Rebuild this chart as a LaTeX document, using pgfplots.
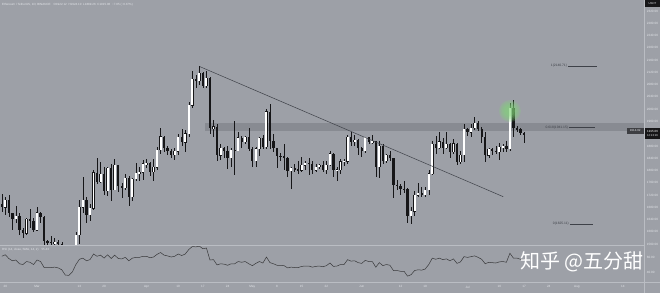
\documentclass[border=0pt]{standalone}
\usepackage{pgfplots}
\pgfplotsset{compat=1.18}
\usepackage{pgfplotstable}
\usepackage{fontspec}
\setmainfont{Liberation Sans}
\newfontfamily\cjk{Noto Sans CJK SC}
\definecolor{bg}{RGB}{157,160,167}
\definecolor{band}{RGB}{136,139,146}
\definecolor{sep}{RGB}{186,189,195}
\definecolor{lbl}{RGB}{228,230,234}
\definecolor{dk}{RGB}{22,22,24}
\definecolor{fib}{RGB}{62,65,72}
\definecolor{glow}{RGB}{130,215,120}

% white (rising) candles
\pgfplotstableread{
d O H L C
-9 1680 1715 1655 1703
-6 1643 1685 1628 1651
-3 1595 1645 1589 1641
0 1605 1680 1602 1663
5 1564 1581 1554 1566
10 1429 1490 1368 1473
11 1473 1600 1465 1590
12 1590 1705 1560 1680
13 1680 1780 1660 1703
15 1655 1690 1636 1677
16 1677 1803 1671 1793
18 1762 1828 1760 1788
20 1734 1812 1716 1808
22 1738 1838 1736 1817
25 1744 1788 1735 1776
27 1713 1775 1700 1772
28 1772 1825 1765 1792
29 1792 1810 1765 1794
30 1794 1833 1768 1822
31 1822 1838 1808 1823
33 1796 1838 1765 1810
34 1810 1875 1800 1867
35 1867 1938 1855 1910
39 1850 1874 1834 1862
40 1862 1918 1852 1909
42 1892 1932 1860 1920
43 1920 2022 1909 2012
44 2012 2126 2003 2098
46 2093 2141 2080 2118
48 2077 2125 2070 2102
50 1937 1965 1908 1943
52 1849 1885 1835 1873
55 1842 1872 1810 1866
57 1865 1925 1862 1907
59 1893 1914 1888 1908
62 1832 1875 1810 1871
63 1871 1910 1848 1905
65 1877 2000 1870 1992
72 1798 1810 1740 1807
75 1800 1845 1795 1817
76 1817 1830 1800 1824
79 1800 1822 1796 1811
80 1811 1822 1805 1818
82 1802 1830 1790 1818
83 1818 1862 1815 1855
85 1801 1810 1766 1803
86 1803 1836 1790 1829
87 1829 1836 1815 1830
88 1830 1915 1822 1909
90 1893 1915 1880 1899
93 1863 1910 1856 1908
95 1893 1915 1885 1895
97 1811 1895 1777 1880
99 1832 1855 1825 1849
106 1651 1680 1626 1667
107 1667 1733 1650 1719
108 1719 1760 1712 1727
110 1721 1745 1712 1737
111 1737 1800 1720 1790
112 1790 1896 1785 1887
114 1874 1925 1870 1894
116 1873 1927 1870 1886
118 1861 1902 1855 1888
120 1829 1865 1822 1851
121 1851 1950 1827 1934
123 1924 1952 1908 1938
124 1938 1975 1932 1954
128 1849 1872 1840 1869
131 1861 1891 1835 1877
132 1877 1885 1860 1879
134 1871 2021 1865 2004
}\wc

% black (falling) candles
\pgfplotstableread{
d O H L C
-10 1691 1722 1665 1680
-8 1703 1719 1648 1660
-7 1660 1662 1605 1643
-5 1651 1660 1591 1607
-4 1607 1611 1580 1595
-2 1641 1675 1613 1634
-1 1634 1646 1600 1605
1 1663 1665 1630 1647
2 1647 1650 1545 1569
3 1569 1572 1550 1567
4 1567 1585 1553 1564
6 1566 1572 1542 1561
7 1561 1567 1530 1534
8 1534 1546 1422 1439
9 1439 1445 1368 1429
14 1703 1715 1630 1655
17 1793 1842 1755 1762
19 1788 1812 1720 1734
21 1808 1822 1700 1738
23 1817 1819 1730 1750
24 1750 1760 1710 1744
26 1776 1782 1683 1713
32 1823 1829 1781 1796
36 1910 1913 1860 1873
37 1873 1880 1852 1864
38 1864 1870 1842 1850
41 1909 1935 1880 1892
45 2098 2110 2070 2093
47 2118 2120 2070 2077
49 2102 2105 1920 1937
51 1943 1950 1830 1849
53 1873 1877 1840 1862
54 1862 1880 1805 1842
56 1866 1962 1785 1865
58 1907 1913 1872 1893
60 1908 1940 1865 1869
61 1869 1875 1810 1832
64 1905 1915 1870 1877
66 1992 2016 1870 1897
67 1897 1920 1860 1872
68 1872 1874 1808 1848
69 1848 1857 1830 1846
70 1846 1885 1800 1842
71 1842 1845 1780 1798
73 1807 1820 1795 1804
74 1804 1830 1790 1800
77 1824 1840 1785 1822
78 1822 1830 1790 1800
81 1818 1830 1795 1802
84 1855 1858 1780 1801
89 1909 1926 1880 1893
91 1899 1904 1850 1874
92 1874 1875 1845 1863
94 1908 1910 1885 1893
96 1895 1897 1780 1811
98 1880 1885 1820 1832
100 1849 1865 1830 1840
101 1840 1842 1710 1752
102 1752 1770 1738 1751
103 1751 1755 1720 1741
104 1741 1765 1725 1739
105 1739 1742 1630 1651
109 1727 1747 1715 1721
113 1887 1914 1855 1874
115 1894 1905 1855 1873
117 1886 1890 1840 1861
119 1888 1889 1818 1829
122 1934 1940 1912 1924
125 1954 1963 1930 1936
126 1936 1943 1890 1910
127 1910 1925 1828 1849
129 1869 1872 1850 1864
130 1864 1880 1855 1861
133 1879 1895 1860 1871
135 2004 2029 1910 1937
136 1937 1945 1925 1934
137 1934 1940 1915 1922
138 1922.12 1924.10 1889.26 1915.06
}\bc

% RSI(14)
\pgfplotstableread{
d r
-10 61
-9 63
-8 58
-7 55
-6 56
-5 51
-4 50
-3 54
-2 53
-1 50
0 56
1 54
2 46
3 46
4 46
5 46.5
6 45.5
7 43
8 36
9 35.5
10 40
11 50
12 57
13 58.5
14 55
15 56.5
16 64
17 61
18 62.5
19 58.5
20 63
21 58
22 62.5
23 58
24 57.5
25 59.5
26 55
27 58.5
28 59.5
29 59.5
30 61
31 61
32 59
33 60
34 63.5
35 66
36 62.5
37 61.5
38 60
39 61
40 64
41 62
42 64
43 70
44 74
45 73.5
46 74.5
47 71
48 72
49 56
50 56.5
51 49.5
52 51
53 50.5
54 49
55 51
56 51
57 54
58 53
59 54
60 51
61 48.5
62 51.5
63 54
64 52
65 60
66 52.5
67 51
68 49
69 49
70 48.5
71 45.5
72 46.5
73 46
74 46
75 47.5
76 48
77 48
78 46.5
79 47.5
80 48
81 47
82 48.5
83 52
84 47.5
85 48
86 50
87 50
88 56.5
89 54.5
90 55
91 52.5
92 51.5
93 55.5
94 54
95 54
96 46.5
97 52.5
98 48.5
99 50
100 49
101 42
102 42
103 41
104 41
105 34.5
106 36.5
107 42
108 43
109 42.5
110 44
111 50
112 58.5
113 57
114 58.5
115 56.5
116 57.5
117 55
118 57.5
119 51.5
120 53.5
121 60.5
122 59.5
123 60.5
124 61.5
125 59.5
126 57
127 51
128 53
129 52.5
130 52
131 53.5
132 54
133 53
134 65
135 58.5
136 58.5
137 57
138 56.5
}\rsi

\pgfplotsset{
  tvaxis/.style={
    scale only axis, width=644pt, xmin=-10.5, xmax=172,
    axis line style={draw=none}, major tick length=0pt, tick style={draw=none},
    yticklabel pos=right,
    yticklabel style={font=\fontsize{3.1}{3.5}\selectfont, text=lbl, anchor=west, inner sep=0pt, xshift=2.6pt,
      /pgf/number format/.cd, fixed, fixed zerofill, precision=2, 1000 sep={}, assume math mode=true},
  },
  ebar/.style n args={2}{forget plot, draw=none, mark=none, error bars/.cd, y dir=both, y explicit, error mark=none,
    error bar style={line width=#1, draw=#2, solid}},
  glowdot/.style={forget plot, only marks, mark=*, mark size=#1,
    mark options={line width=0pt, draw=glow, draw opacity=0, fill=glow, fill opacity=0.2}},
}

\begin{document}
\begin{tikzpicture}[x=1pt,y=1pt]
\fill[bg] (0pt,0pt) rectangle (660pt,293pt);

\begin{axis}[tvaxis, at={(0pt,48pt)}, anchor=south west, height=245pt,
  ymin=1557, ymax=2356, xtick=\empty,
  ytick={1560,1600,1640,1680,1720,1760,1800,1840,1880,1960,2000,2040,2080,2120,2160,2200,2240,2280,2320}]
% resistance band
\addplot[fill=band, draw=none, forget plot] coordinates {(47.5,1928.8) (172,1928.8) (172,1954.9) (47.5,1954.9)} -- cycle;
% soft glow around the high (stacked translucent discs)
\addplot[glowdot=11pt] coordinates {(134,1994)};
\addplot[glowdot=9.5pt] coordinates {(134,1994)};
\addplot[glowdot=8pt] coordinates {(134,1994)};
\addplot[glowdot=6.5pt] coordinates {(134,1994)};
\addplot[glowdot=5pt] coordinates {(134,1994)};
% wicks
\addplot[ebar={0.45pt}{dk}] table[x=d, y expr={(\thisrow{H}+\thisrow{L})/2}, y error expr={(\thisrow{H}-\thisrow{L})/2}] {\wc};
\addplot[ebar={0.45pt}{dk}] table[x=d, y expr={(\thisrow{H}+\thisrow{L})/2}, y error expr={(\thisrow{H}-\thisrow{L})/2}] {\bc};
% black bodies
\addplot[ebar={2.3pt}{dk}]
  table[x=d, y expr={(\thisrow{O}+\thisrow{C})/2}, y error expr={max(abs(\thisrow{C}-\thisrow{O})/2,1)}] {\bc};
% white bodies: outline then fill
\addplot[ebar={2.5pt}{dk}]
  table[x=d, y expr={(\thisrow{O}+\thisrow{C})/2}, y error expr={max(abs(\thisrow{C}-\thisrow{O})/2,0.8)+1}] {\wc};
\addplot[ebar={1.9pt}{white}]
  table[x=d, y expr={(\thisrow{O}+\thisrow{C})/2}, y error expr={max(abs(\thisrow{C}-\thisrow{O})/2,0.8)}] {\wc};
% trend line
\addplot[fib, line width=0.5pt, forget plot] coordinates {(46.2,2138.4) (132.1,1714.6)};
% fibonacci levels
\addplot[fib, line width=0.4pt, forget plot] coordinates {(150.4,2140.71) (158.6,2140.71)};
\addplot[fib, line width=0.4pt, forget plot] coordinates {(150.7,1941.15) (158.1,1941.15)};
\addplot[fib, line width=0.4pt, forget plot] coordinates {(151,1625.11) (157.5,1625.11)};
\node[anchor=east, inner sep=0.3pt, text=fib, font=\fontsize{3.3}{3.6}\selectfont] at (axis cs:150.3,2140.71) {1(2140.71)};
\node[anchor=east, inner sep=0.3pt, text=fib, font=\fontsize{3.3}{3.6}\selectfont] at (axis cs:150.6,1941.15) {0.618(1941.15)};
\node[anchor=east, inner sep=0.3pt, text=fib, font=\fontsize{3.3}{3.6}\selectfont] at (axis cs:150.8,1625.11) {0(1625.11)};
\end{axis}

\begin{axis}[tvaxis, at={(0pt,11pt)}, anchor=south west, height=37pt,
  ymin=26.7, ymax=76, ytick={40,60},
  xtick={-9,0,12,19,31,40,47,54,61,68,75,82,92,103,110,122,131,138,145,153,166},
  xticklabels={20,Mar,13,20,Apr,10,17,24,May,8,15,22,Jun,12,19,Jul,10,17,24,Aug,14},
  xticklabel style={font=\fontsize{3.1}{3.5}\selectfont, text=lbl, anchor=north, inner sep=0pt, yshift=-3.6pt}]
\addplot[dk!85, line width=0.5pt, mark=none] table[x=d, y=r] {\rsi};
\end{axis}

% separators
\draw[sep, line width=0.6pt] (0pt,48pt) -- (644pt,48pt);
\draw[sep, line width=0.6pt] (0pt,11pt) -- (660pt,11pt);
\draw[sep, line width=0.6pt] (644pt,0pt) -- (644pt,293pt);

% header legends
\node[anchor=west, inner sep=0pt, text=lbl, font=\fontsize{3}{3.4}\selectfont] at (2pt,288pt)
  {Ethereum / TetherUS, 1D, BINANCE\quad O1922.12\; H1924.10\; L1889.26\; C1915.06\; −7.05 (−0.37\%)};
\node[anchor=west, inner sep=0pt, text=lbl, font=\fontsize{3}{3.4}\selectfont] at (2pt,43.5pt)
  {RSI (14, close, SMA, 14, 2)\quad 55.43};

% price tags
\fill[dk] (645pt,286.5pt) rectangle (660pt,293pt);
\node[text=lbl, font=\fontsize{2.8}{3}\selectfont, inner sep=0pt] at (652.5pt,289.7pt) {USDT};
\fill[dk] (645pt,154pt) rectangle (660pt,165.5pt);
\node[text=white, font=\fontsize{3}{3.3}\selectfont, inner sep=0pt] at (652.5pt,162pt) {1915.06};
\node[text=lbl, font=\fontsize{2.8}{3.1}\selectfont, inner sep=0pt] at (652.5pt,157.3pt) {12:13:16};
\fill[dk!70!bg] (627pt,159.5pt) rectangle (643.5pt,165.5pt);
\node[text=lbl, font=\fontsize{3}{3.3}\selectfont, inner sep=0pt] at (635.2pt,162.5pt) {1914.02};

% watermark
\node[anchor=west, inner sep=0pt, text=white, font=\cjk\fontsize{20}{22}\selectfont] at (520pt,31pt) {知乎 @五分甜};

\pgfresetboundingbox
\useasboundingbox (0pt,0pt) rectangle (660pt,293pt);
\end{tikzpicture}
\end{document}
